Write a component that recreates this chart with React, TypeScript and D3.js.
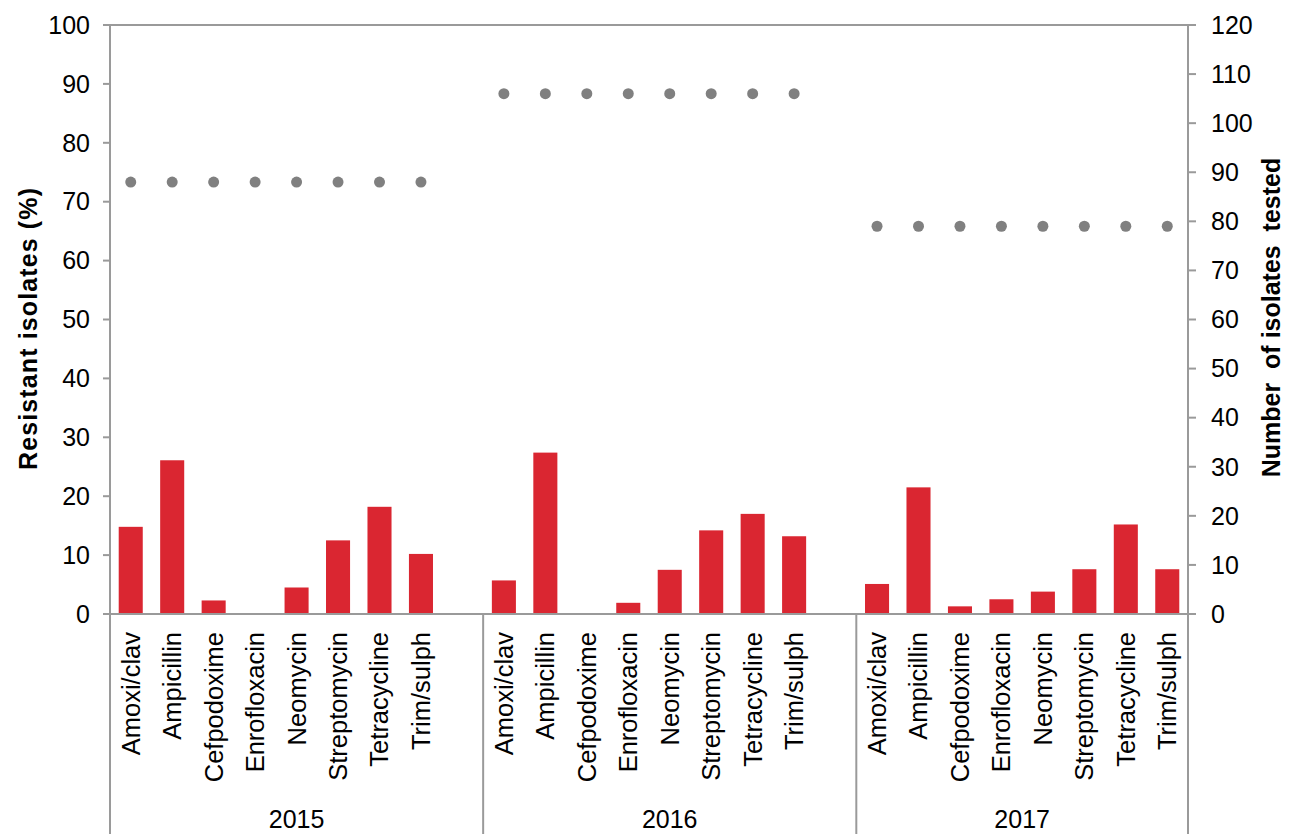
import React from "react";
import * as d3 from "d3";

const years = ["2015", "2016", "2017"];
const drugs = ["Amoxi/clav", "Ampicillin", "Cefpodoxime", "Enrofloxacin", "Neomycin", "Streptomycin", "Tetracycline", "Trim/sulph"];
const resistant2015 = [14.8, 26.1, 2.3, 0, 4.5, 12.5, 18.2, 10.2];
const resistant2016 = [5.7, 27.4, 0, 1.9, 7.5, 14.2, 17.0, 13.2];
const resistant2017 = [5.1, 21.5, 1.3, 2.5, 3.8, 7.6, 15.2, 7.6];
const tested = [88, 106, 79];
const leftTicks = [0, 10, 20, 30, 40, 50, 60, 70, 80, 90, 100];
const rightTicks = [0, 10, 20, 30, 40, 50, 60, 70, 80, 90, 100, 110, 120];

const W = 1295, H = 834;
const X0 = 110, X1 = 1188, Y0 = 614, Y1 = 25;
const FONT = "Liberation Sans, Arial, sans-serif";
const AXIS = "#9a9a9a";
const RED = "#DA2631";
const DOT = "#808080";

export default function App() {
  const series = [resistant2015, resistant2016, resistant2017];
  const slots: string[] = [];
  years.forEach((y, yi) => {
    drugs.forEach((d) => slots.push(`${y}|${d}`));
    if (yi < years.length - 1) slots.push(`${y}|blank`);
  });
  const x = d3.scaleBand<string>().domain(slots).range([X0, X1]).paddingInner(0.42).paddingOuter(0.21);
  const step = (X1 - X0) / slots.length;
  const yL = d3.scaleLinear().domain([0, 100]).range([Y0, Y1]);
  const yR = d3.scaleLinear().domain([0, 120]).range([Y0, Y1]);
  const seps = [X0, X0 + step * 9, X0 + step * 18, X1];

  return (
    <svg width={W} height={H} style={{ position: "absolute", left: 0, top: 0, background: "#fff" }} fontFamily={FONT}>
      <rect width={W} height={H} fill="#fff" />
      {years.map((yr, yi) =>
        drugs.map((d, di) => {
          const v = series[yi][di];
          if (v <= 0) return null;
          return (
            <rect key={`${yr}-${d}`} x={x(`${yr}|${d}`)} y={yL(v)} width={x.bandwidth()} height={Y0 - yL(v)} fill={RED} />
          );
        })
      )}
      {years.map((yr, yi) =>
        drugs.map((d) => (
          <circle key={`dot-${yr}-${d}`} cx={x(`${yr}|${d}`)! + x.bandwidth() / 2} cy={yR(tested[yi])} r={5.5} fill={DOT} />
        ))
      )}
      <line x1={X0 - 7} x2={X1 + 8} y1={Y1} y2={Y1} stroke={AXIS} strokeWidth={2} />
      <line x1={X0 - 7} x2={X1 + 8} y1={Y0} y2={Y0} stroke={AXIS} strokeWidth={2} />
      {seps.map((sx, i) => (
        <line key={`sep-${i}`} x1={sx} x2={sx} y1={i === 0 || i === 3 ? Y1 : Y0} y2={H} stroke={AXIS} strokeWidth={2} />
      ))}
      {leftTicks.map((t) => (
        <g key={`lt-${t}`}>
          <line x1={X0 - 7} x2={X0} y1={yL(t)} y2={yL(t)} stroke={AXIS} strokeWidth={2} />
          <text x={90} y={yL(t)} dy="0.35em" textAnchor="end" fontSize={25} fill="#000">{t}</text>
        </g>
      ))}
      {rightTicks.map((t) => (
        <g key={`rt-${t}`}>
          <line x1={X1} x2={X1 + 8} y1={yR(t)} y2={yR(t)} stroke={AXIS} strokeWidth={2} />
          <text x={1211} y={yR(t)} dy="0.35em" textAnchor="start" fontSize={25} fill="#000">{t}</text>
        </g>
      ))}
      {years.map((yr) =>
        drugs.map((d) => {
          const cx = x(`${yr}|${d}`)! + x.bandwidth() / 2;
          return (
            <text key={`cl-${yr}-${d}`} transform={`translate(${cx},${632}) rotate(-90)`} textAnchor="end" dy="0.35em" fontSize={25.5} fill="#000">{d}</text>
          );
        })
      )}
      {years.map((yr, yi) => (
        <text key={`yl-${yr}`} x={(seps[yi] + seps[yi + 1]) / 2} y={828} textAnchor="middle" fontSize={25} fill="#000">{yr}</text>
      ))}
      <text transform={`translate(28,329) rotate(-90)`} textAnchor="middle" dy="0.35em" fontSize={25} fontWeight="bold" textLength={282} lengthAdjust="spacing">{"Resistant isolates (%)"}</text>
      <text transform={`translate(1271,${(Y0 + Y1) / 2 - 2}) rotate(-90)`} textAnchor="middle" dy="0.35em" fontSize={25} fontWeight="bold" style={{ whiteSpace: "pre" }}>{"Number  of isolates  tested"}</text>
    </svg>
  );
}
